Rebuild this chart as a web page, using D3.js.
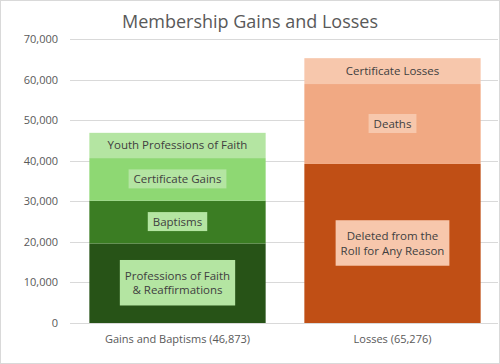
<!DOCTYPE html>
<html>
<head>
<meta charset="utf-8">
<script src="https://cdn.jsdelivr.net/npm/d3@7"></script>
<style>
  body { margin: 0; background: #fff; }
  svg { display: block; font-family: "Open Sans", "Noto Sans", sans-serif; }
</style>
</head>
<body>
<script>
// data
const categories = ["Gains and Baptisms (46,873)", "Losses (65,276)"]
const gainNames = ["Professions of Faith\n& Reaffirmations", "Baptisms", "Certificate Gains", "Youth Professions of Faith"]
const gainValues = [19600, 10550, 10500, 6223]
const gainColors = ["#275317", "#3b7d23", "#8ed873", "#b4e5a2"]
const gainBoxed = [true, true, true, false]
const lossNames = ["Deleted from the\nRoll for Any Reason", "Deaths", "Certificate Losses"]
const lossValues = [39200, 19700, 6376]
const lossColors = ["#c04f15", "#f1a983", "#f7c7ac"]
const lossBoxed = [true, true, false]
const yTicks = [0, 10000, 20000, 30000, 40000, 50000, 60000, 70000]

const W = 500, H = 364
const margin = {top: 39, right: 0, bottom: 41, left: 70}

const svg = d3.select("body").append("svg").attr("width", W).attr("height", H)

svg.append("rect").attr("x", 0.5).attr("y", 0.5).attr("width", W - 1).attr("height", H - 1)
  .attr("fill", "#fff").attr("stroke", "#d9d9d9")

const x = d3.scaleBand().domain(categories)
  .range([margin.left, W - margin.right]).paddingInner(0.18).paddingOuter(0.09)
const y = d3.scaleLinear().domain([0, 70000]).range([H - margin.bottom, margin.top])

// gridlines
svg.append("g").selectAll("line").data(yTicks).enter().append("line")
  .attr("x1", margin.left).attr("x2", W - 2)
  .attr("y1", d => Math.round(y(d)) + 0.5).attr("y2", d => Math.round(y(d)) + 0.5)
  .attr("stroke", "#d9d9d9").attr("stroke-width", 1)

svg.append("g").selectAll("text").data(yTicks).enter().append("text")
  .attr("x", 58).attr("y", d => y(d) + 4)
  .attr("text-anchor", "end").attr("font-size", 11).attr("fill", "#595959")
  .text(d => d3.format(",")(d))

function stack(names, values, colors, boxed, cat, boxFill) {
  let acc = 0
  const segs = values.map((v, i) => {
    const s = {name: names[i], y0: acc, y1: acc + v, color: colors[i], boxed: boxed[i]}
    acc += v
    return s
  })
  const g = svg.append("g")
  g.selectAll("rect").data(segs).enter().append("rect")
    .attr("x", x(cat)).attr("width", x.bandwidth())
    .attr("y", d => y(d.y1)).attr("height", d => y(d.y0) - y(d.y1))
    .attr("fill", d => d.color)

  const cx = x(cat) + x.bandwidth() / 2
  segs.forEach(d => {
    const cy = (y(d.y0) + y(d.y1)) / 2
    const lines = d.name.split("\n")
    const lh = 14.5
    const t = g.append("text").attr("text-anchor", "middle")
      .attr("font-size", 11.5).attr("fill", "#404040")
    lines.forEach((l, i) => {
      t.append("tspan").attr("x", cx)
        .attr("y", cy + 4 + (i - (lines.length - 1) / 2) * lh).text(l)
    })
    if (d.boxed) {
      const bb = t.node().getBBox()
      const padX = 5, padY = lines.length > 1 ? 8 : 2
      g.insert("rect", function() { return t.node() })
        .attr("x", bb.x - padX).attr("y", bb.y - padY)
        .attr("width", bb.width + padX * 2).attr("height", bb.height + padY * 2)
        .attr("fill", boxFill)
    }
  })
}

stack(gainNames, gainValues, gainColors, gainBoxed, categories[0], "#b4e5a2")
stack(lossNames, lossValues, lossColors, lossBoxed, categories[1], "#f7c7ac")

// category labels
svg.append("g").selectAll("text").data(categories).enter().append("text")
  .attr("x", d => x(d) + x.bandwidth() / 2).attr("y", 343)
  .attr("text-anchor", "middle").attr("font-size", 11).attr("fill", "#595959")
  .text(d => d)

svg.append("text").attr("x", 250).attr("y", 28)
  .attr("text-anchor", "middle").attr("font-size", 18).attr("fill", "#595959")
  .text("Membership Gains and Losses")
</script>
</body>
</html>
